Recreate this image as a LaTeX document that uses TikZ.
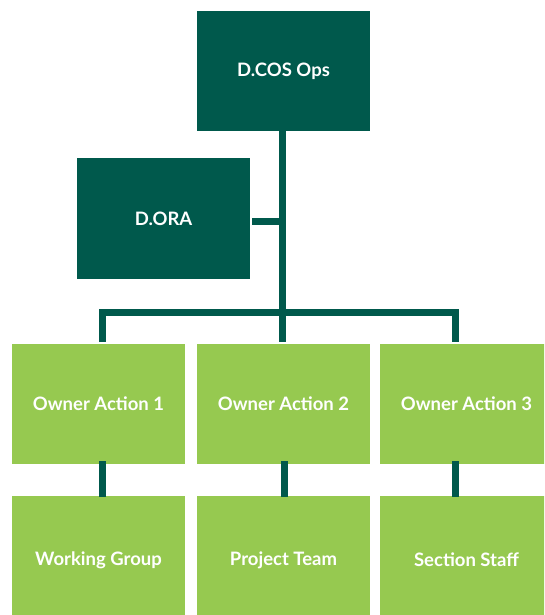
\documentclass[tikz,border=0pt]{standalone}
\usepackage{fontspec}
\setmainfont{Lato}
\definecolor{dkgreen}{HTML}{00594C}
\definecolor{ltgreen}{HTML}{96C950}
\begin{document}
\begin{tikzpicture}[x=1pt,y=-1pt,
  box/.style={rectangle, inner sep=0pt, minimum width=173pt, text=white,
    font=\fontsize{18.5}{20}\selectfont\bfseries},
  darkbox/.style={box, fill=dkgreen, minimum height=120.5pt},
  lightbox/.style={box, fill=ltgreen, minimum height=120pt},
  link/.style={draw=dkgreen, line width=7pt, line cap=butt, line join=miter}]
\useasboundingbox (0,0) rectangle (544,615);
\begin{scope}
\clip (0,0) rectangle (544,615);
\node[darkbox] (top) at (283.5,71) {D.COS Ops};
\node[darkbox] (dora) at (163.5,218.5) {D.ORA};
\node[lightbox] (oa1) at (98.5,404) {Owner Action 1};
\node[lightbox] (oa2) at (283.5,404) {Owner Action 2};
\node[lightbox] (oa3) at (466.5,404) {Owner Action 3};
\node[lightbox, minimum height=128pt] (wg) at (98.5,560) {Working Group};
\node[lightbox, minimum height=128pt] (pt) at (283.5,560) {Project Team};
\node[lightbox, minimum height=128pt] (ss) at (466.5,560) {Section Staff};
\end{scope}
% connectors
\coordinate (bar) at (282.5,312.5);
\coordinate (d1) at (102.5,342);
\coordinate (d2) at (282.5,342);
\coordinate (d3) at (455.5,342);
\coordinate (dj) at (282.5,221.5);
\draw[link] (top.south -| bar) -- (d2);
\draw[link] (d1) |- (bar) -| (d3);
\draw[link] (dora.east |- dj) ++(2,0) -- (dj);
\draw[link] ([xshift=4pt,yshift=3pt]oa1.south) -- ([xshift=4pt,yshift=-1pt]wg.north);
\draw[link] ([xshift=0.5pt,yshift=3pt]oa2.south) -- ([xshift=0.5pt,yshift=-1pt]pt.north);
\draw[link] ([xshift=-11pt,yshift=3pt]oa3.south) -- ([xshift=-11pt,yshift=-1pt]ss.north);
\end{tikzpicture}
\end{document}
